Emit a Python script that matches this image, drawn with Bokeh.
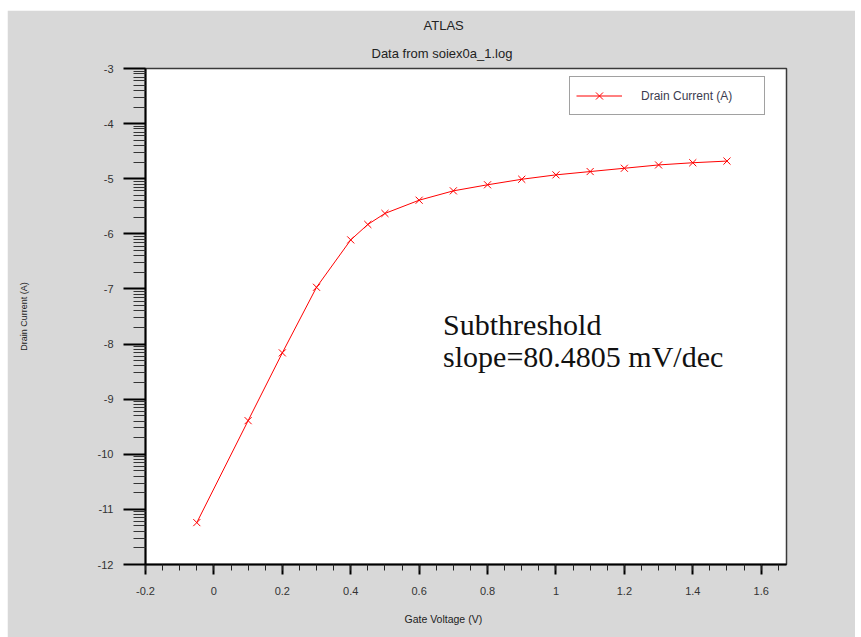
from bokeh.plotting import figure
from bokeh.models import Range1d, FixedTicker, Legend, LegendItem, Label, Title
from bokeh.embed import file_html
from bokeh.resources import INLINE
import math

# ---- data ----
gate_voltage = [-0.05, 0.1, 0.2, 0.3, 0.4, 0.45, 0.5, 0.6, 0.7, 0.8, 0.9,
                1.0, 1.1, 1.2, 1.3, 1.4, 1.5]
log_drain_current = [-11.24, -9.39, -8.16, -6.97, -6.11, -5.83, -5.63, -5.39,
                     -5.22, -5.11, -5.01, -4.93, -4.87, -4.81, -4.75, -4.71, -4.68]

x_ticks = [-0.2, 0.0, 0.2, 0.4, 0.6, 0.8, 1.0, 1.2, 1.4, 1.6]
x_tick_labels = ["-0.2", "0", "0.2", "0.4", "0.6", "0.8", "1", "1.2", "1.4", "1.6"]
x_minor_step = 0.05
y_ticks = [-12, -11, -10, -9, -8, -7, -6, -5, -4, -3]
y_tick_labels = ["-12", "-11", "-10", "-9", "-8", "-7", "-6", "-5", "-4", "-3"]

title_text = "ATLAS"
subtitle_text = "Data from soiex0a_1.log"
x_label = "Gate Voltage (V)"
y_label = "Drain Current (A)"
series_label = "Drain Current (A)"
note_lines = ["Subthreshold", "slope=80.4805 mV/dec"]

# ---- styling ----
GRAY = "#d8d8d8"
TXT = "#333333"
FONT = "Liberation Sans"

x_minor = [round(x_ticks[0] + i * x_minor_step, 4)
           for i in range(int(round((1.65 - x_ticks[0]) / x_minor_step)) + 1)]
y_minor = [d + math.log10(k) for d in y_ticks[:-1] for k in range(2, 10)]

p = figure(width=848, height=627, output_backend="svg", toolbar_location=None,
           x_range=Range1d(-0.2, 1.674), y_range=Range1d(-12, -3),
           min_border_left=138, min_border_right=69, min_border_top=58,
           min_border_bottom=73, title=title_text)
p.margin = (10, 6, 0, 7)
p.background_fill_color = "white"
p.border_fill_color = GRAY
p.outline_line_color = "#3a3a3a"
p.outline_line_width = 1.5
p.grid.visible = False

# titles
p.title.align = "left"
p.title.offset = 278
p.title.text_font = FONT
p.title.text_font_size = "13px"
p.title.text_font_style = "normal"
p.title.text_color = "#222222"
p.title.standoff = 6

sub = Title(text=subtitle_text, align="left", offset=226, text_font=FONT,
            text_font_size="13px", text_font_style="normal", text_color="#222222",
            standoff=16)
p.add_layout(sub, "above")

# x axis
xa = p.xaxis[0]
xa.ticker = FixedTicker(ticks=x_ticks, minor_ticks=x_minor)
xa.major_label_overrides = {t: l for t, l in zip(x_ticks, x_tick_labels)}
xa.axis_line_color = "black"
xa.axis_line_width = 2
xa.major_tick_in = 0
xa.major_tick_out = 10
xa.minor_tick_in = 0
xa.minor_tick_out = 6
xa.major_tick_line_color = "black"
xa.major_tick_line_width = 2
xa.minor_tick_line_color = "#222222"
xa.minor_tick_line_width = 1
xa.major_label_text_font = FONT
xa.major_label_text_font_size = "11px"
xa.major_label_text_color = TXT
xa.major_label_standoff = 12

# x-axis title, placed where the reference has it
xt = Title(text=x_label, align="left", offset=259, text_font=FONT,
           text_font_size="10.5px", text_font_style="normal", text_color="#222222",
           standoff=26)
p.add_layout(xt, "below")

# y axis
ya = p.yaxis[0]
ya.ticker = FixedTicker(ticks=y_ticks, minor_ticks=y_minor)
ya.major_label_overrides = {t: l for t, l in zip(y_ticks, y_tick_labels)}
ya.axis_line_color = "black"
ya.axis_line_width = 2
ya.major_tick_in = 0
ya.major_tick_out = 22
ya.minor_tick_in = 0
ya.minor_tick_out = 12
ya.major_tick_line_color = "black"
ya.major_tick_line_width = 2
ya.minor_tick_line_color = "#333333"
ya.minor_tick_line_width = 1.2
ya.major_label_text_font = FONT
ya.major_label_text_font_size = "11px"
ya.major_label_text_color = TXT
ya.major_label_standoff = 10
ya.axis_label = y_label
ya.axis_label_text_font = FONT
ya.axis_label_text_font_size = "9px"
ya.axis_label_text_font_style = "normal"
ya.axis_label_text_color = "#222222"
ya.axis_label_standoff = 66

# series
line_r = p.line(gate_voltage, log_drain_current, line_color="#ff0000", line_width=1)
scat_r = p.scatter(gate_voltage, log_drain_current, marker="x", size=10,
                   line_color="#ff0000", line_width=1)

legend = Legend(items=[LegendItem(label=series_label, renderers=[line_r, scat_r])],
                location=(424, 449), padding=6, margin=0, spacing=0,
                glyph_width=46, glyph_height=25, label_standoff=19,
                label_width=117, label_height=25,
                border_line_color="#444444", border_line_width=1.5,
                background_fill_color="white", background_fill_alpha=1,
                label_text_font=FONT, label_text_font_size="12px",
                label_text_color="#3c3c50")
p.add_layout(legend)

# annotation text
note_x = 0.670
note_y = [-7.65, -8.23]
for txt, yy in zip(note_lines, note_y):
    p.add_layout(Label(x=note_x, y=yy, text=txt, text_font="Liberation Serif",
                       text_font_size="30px", text_color="#111111",
                       text_baseline="alphabetic", text_align="left"))

open("out.html", "w").write(file_html(p, INLINE))
